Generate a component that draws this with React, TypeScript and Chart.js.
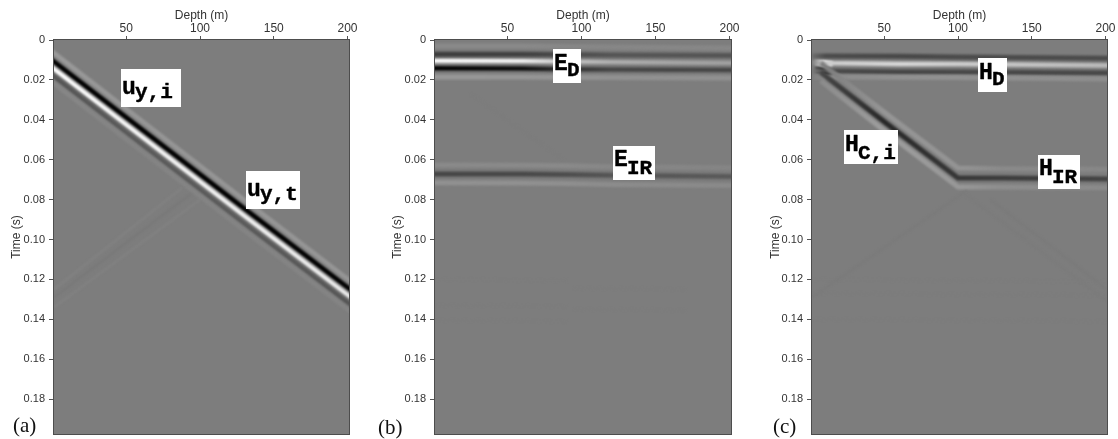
import React, { useEffect, useRef } from "react";
import { Chart, registerables } from "chart.js";

Chart.register(...registerables);

const depthTicks = [50, 100, 150, 200];
const timeTicks = [0, 0.02, 0.04, 0.06, 0.08, 0.1, 0.12, 0.14, 0.16, 0.18];
const timeLabels = ["0", "0.02", "0.04", "0.06", "0.08", "0.10", "0.12", "0.14", "0.16", "0.18"];

// Panel (a): slanted wavefront
const aDepth = [-9, 60, 130, 211];
const aLightTop = [0.0008, 0.0402, 0.0802, 0.1259];
const aBlack = [0.0051, 0.0445, 0.0845, 0.1302];
const aWhite = [0.0088, 0.0482, 0.0882, 0.1339];
const aDark = [0.0126, 0.052, 0.092, 0.1377];
const aLightLow = [0.0161, 0.0555, 0.0955, 0.1412];
const aGrayLightTop = [155, 150, 150, 150];
const aGrayBlack = [0, 0, 0, 0];
const aGrayWhite = [255, 245, 240, 235];
const aGrayDark = [85, 90, 90, 85];
const aGrayLightLow = [135, 132, 132, 132];
const aFaintDepth1 = [1, 88];
const aFaintTime1 = [0.125, 0.074];
const aFaintDepth2 = [1, 94];
const aFaintTime2 = [0.129, 0.077];
const aFaintDepth3 = [1, 100];
const aFaintTime3 = [0.134, 0.08];

// Panel (b): horizontal arrivals
const bDepth = [-5, 60, 90, 120, 205];
const bLight0 = [0.003, 0.003, 0.0032, 0.0035, 0.004];
const bDark0 = [0.0072, 0.0072, 0.0073, 0.0075, 0.0078];
const bWhite0 = [0.0104, 0.0105, 0.0108, 0.011, 0.0115];
const bBlack0 = [0.0142, 0.0143, 0.0146, 0.0148, 0.015];
const bLight1 = [0.0186, 0.0186, 0.0187, 0.0188, 0.019];
const bGrayLight0 = [138, 138, 135, 135, 135];
const bGrayDark0 = [60, 65, 75, 85, 85];
const bGrayWhite0 = [255, 240, 200, 175, 160];
const bGrayBlack0 = [0, 15, 50, 70, 70];
const bGrayLight1 = [152, 150, 148, 145, 145];
const bIrLight = [0.0627, 0.0628, 0.063, 0.0635, 0.064];
const bIrDark = [0.0672, 0.0672, 0.0674, 0.0678, 0.0684];
const bIrLow = [0.0716, 0.0717, 0.0719, 0.0724, 0.073];
const bGrayIrLight = [138, 138, 138, 135, 133];
const bGrayIrDark = [70, 72, 78, 85, 90];
const bGrayIrLow = [145, 145, 143, 140, 138];
const bFaintDepth = [25, 88];
const bFaintTime = [0.027, 0.06];
const bLowDepth1 = [1, 90];
const bLowDepth2 = [95, 170];
const bLowTime1 = [0.12, 0.1205];
const bLowTime2 = [0.133, 0.1335];
const bLowTime3 = [0.1405, 0.141];
const bLowTime4 = [0.1245, 0.125];
const bLowTime5 = [0.135, 0.1355];

// Panel (c): direct, converted and interface arrivals
const cTopDepth = [1, 10, 60, 100, 205];
const cTopDark = [0.008, 0.008, 0.0082, 0.0085, 0.0092];
const cTopWhite = [0.0112, 0.0115, 0.012, 0.012, 0.0128];
const cTopBlack = [0.0155, 0.0155, 0.016, 0.016, 0.0165];
const cTopLight = [0.0185, 0.0185, 0.0187, 0.0188, 0.0195];
const cGrayTopDark = [110, 75, 72, 75, 75];
const cGrayTopWhite = [130, 205, 215, 205, 185];
const cGrayTopBlack = [125, 75, 70, 72, 72];
const cGrayTopLight = [125, 140, 145, 145, 142];
const cKinkDepth = [7, 50, 100, 130, 205];
const cKinkLight = [0.0115, 0.0362, 0.0642, 0.0645, 0.0648];
const cKinkDark = [0.0163, 0.041, 0.0692, 0.0692, 0.0697];
const cKinkLow = [0.0205, 0.0455, 0.0737, 0.0737, 0.0741];
const cGrayKinkLight = [125, 150, 148, 138, 135];
const cGrayKinkDark = [70, 40, 55, 60, 68];
const cGrayKinkLow = [140, 158, 152, 142, 138];
const cBlobDepth = [3, 9, 15];
const cBlobWhite = [0.0112, 0.0115, 0.012];
const cBlobBlack = [0.0148, 0.0155, 0.0175];
const cGrayBlobWhite = [160, 255, 205];
const cGrayBlobBlack = [80, 0, 40];
const cFaintDepth1 = [1, 106];
const cFaintTime1 = [0.129, 0.0755];
const cFaintDepth2 = [122, 201];
const cFaintTime2 = [0.08, 0.125];
const cFaintDepth3 = [106, 201];
const cFaintTime3 = [0.078, 0.131];
const cLowDepth = [1, 201];
const cLowTime1 = [0.12, 0.121];
const cLowTime2 = [0.127, 0.128];
const cLowTime3 = [0.14, 0.141];

type Band = [number[], number[], number[], number];

const faint = (d: number[], t: number[], g: number): Band => [d, t, d.map(() => g), 2];

const panelABands: Band[] = [
  faint(aFaintDepth1, aFaintTime1, 130),
  faint(aFaintDepth2, aFaintTime2, 120),
  faint(aFaintDepth3, aFaintTime3, 130),
  [aDepth, aLightLow, aGrayLightLow, 4.5],
  [aDepth, aLightTop, aGrayLightTop, 4.5],
  [aDepth, aDark, aGrayDark, 4.5],
  [aDepth, aWhite, aGrayWhite, 4],
  [aDepth, aBlack, aGrayBlack, 4.5],
];

const panelBBands: Band[] = [
  faint(bFaintDepth, bFaintTime, 124),
  faint(bLowDepth1, bLowTime1, 124),
  faint(bLowDepth1, bLowTime2, 124),
  faint(bLowDepth1, bLowTime3, 124),
  faint(bLowDepth2, bLowTime4, 124),
  faint(bLowDepth2, bLowTime5, 124),
  [bDepth, bLight0, bGrayLight0, 5],
  [bDepth, bLight1, bGrayLight1, 5],
  [bDepth, bDark0, bGrayDark0, 5],
  [bDepth, bBlack0, bGrayBlack0, 4.5],
  [bDepth, bWhite0, bGrayWhite0, 4],
  [bDepth, bIrLight, bGrayIrLight, 5],
  [bDepth, bIrLow, bGrayIrLow, 5],
  [bDepth, bIrDark, bGrayIrDark, 5],
];

const panelCBands: Band[] = [
  faint(cFaintDepth1, cFaintTime1, 122),
  faint(cFaintDepth2, cFaintTime2, 122),
  faint(cFaintDepth3, cFaintTime3, 123),
  faint(cLowDepth, cLowTime1, 124),
  faint(cLowDepth, cLowTime2, 124),
  faint(cLowDepth, cLowTime3, 124),
  [cKinkDepth, cKinkLight, cGrayKinkLight, 5],
  [cKinkDepth, cKinkLow, cGrayKinkLow, 5],
  [cKinkDepth, cKinkDark, cGrayKinkDark, 5],
  [cTopDepth, cTopLight, cGrayTopLight, 5],
  [cTopDepth, cTopDark, cGrayTopDark, 5],
  [cTopDepth, cTopBlack, cGrayTopBlack, 5],
  [cTopDepth, cTopWhite, cGrayTopWhite, 4.5],
  [cBlobDepth, cBlobWhite, cGrayBlobWhite, 6],
  [cBlobDepth, cBlobBlack, cGrayBlobBlack, 6],
];

// Tag: main text, subscript, box left, box top, box width, box height, main baseline, subscript baseline (px within the canvas)
type Tag = [string, string, number, number, number, number, number, number];

const panels = [
  {
    left: 0,
    width: 375,
    area: [54, 349],
    titlePad: 9,
    bands: panelABands,
    letter: "(a)",
    letterPos: [13, 432],
    tags: [
      ["u", "y,i", 121, 69, 60, 38, 25, 29],
      ["u", "y,t", 246, 171, 54, 38, 25, 29],
    ] as Tag[],
  },
  {
    left: 370,
    width: 386,
    area: [435, 731],
    titlePad: 20,
    bands: panelBBands,
    letter: "(b)",
    letterPos: [378, 434],
    tags: [
      ["E", "D", 553, 49, 28, 34, 21, 27],
      ["E", "IR", 613, 146, 42, 34, 20, 28],
    ] as Tag[],
  },
  {
    left: 756,
    width: 362,
    area: [812, 1107],
    titlePad: 12,
    bands: panelCBands,
    letter: "(c)",
    letterPos: [773, 433],
    tags: [
      ["H", "D", 978, 58, 29, 34, 21, 27],
      ["H", "C,i", 844, 130, 54, 34, 21, 29],
      ["H", "IR", 1038, 155, 42, 34, 20, 28],
    ] as Tag[],
  },
];

const bandGradient = (chart: any, band: Band, fallback: string) => {
  const { ctx, scales } = chart;
  if (!scales.x || !chart.chartArea) return fallback;
  const [depth, , gray] = band;
  const x0 = scales.x.getPixelForValue(depth[0]);
  const x1 = scales.x.getPixelForValue(depth[depth.length - 1]);
  const g = ctx.createLinearGradient(x0, 0, x1, 0);
  depth.forEach((d, i) => {
    const v = gray[i];
    g.addColorStop((d - depth[0]) / (depth[depth.length - 1] - depth[0]), `rgb(${v},${v},${v})`);
  });
  return g;
};

function Panel({ panel }: { panel: (typeof panels)[number] }) {
  const ref = useRef<HTMLCanvasElement>(null);
  useEffect(() => {
    const sans = "'Liberation Sans'";
    const xFont = { family: sans, size: 12 };
    const yFont = { family: sans, size: 11 };
    const ink = "#333333";
    const chart = new Chart(ref.current!, {
      type: "line",
      data: {
        datasets: panel.bands.map((band) => ({
          data: band[0].map((x, i) => ({ x, y: band[1][i] })),
          borderColor: (c: any) => bandGradient(c.chart, band, "#808080"),
          borderWidth: band[3],
          pointRadius: 0,
          tension: 0,
          fill: false,
          borderCapStyle: "butt",
          borderJoinStyle: "round",
        })),
      } as any,
      options: {
        responsive: false,
        animation: false,
        events: [],
        parsing: false,
        normalized: false,
        layout: {
          padding: { left: 0, top: 0, right: panel.width - (panel.area[1] - panel.left), bottom: 5 },
        },
        plugins: { legend: { display: false }, tooltip: { enabled: false }, title: { display: false } },
        scales: {
          x: {
            type: "linear",
            position: "top",
            min: 1,
            max: 201,
            afterBuildTicks: (s: any) => {
              s.ticks = depthTicks.map((value) => ({ value }));
            },
            afterFit: (s: any) => {
              s.height = 40;
              s.paddingLeft = 0;
              s.paddingRight = 0;
            },
            ticks: { font: xFont, color: ink, padding: 0, maxRotation: 0, autoSkip: false },
            grid: { drawOnChartArea: false, drawTicks: true, tickLength: 4, color: "#555555" },
            border: { display: false },
            title: { display: true, text: "Depth (m)", font: xFont, color: ink, padding: { top: 8, bottom: 0 } },
          },
          y: {
            type: "linear",
            reverse: true,
            min: 0,
            max: 0.1975,
            afterBuildTicks: (s: any) => {
              s.ticks = timeTicks.map((value) => ({ value }));
            },
            afterFit: (s: any) => {
              s.width = panel.area[0] - panel.left;
              s.paddingTop = 0;
              s.paddingBottom = 0;
            },
            ticks: {
              font: yFont,
              color: ink,
              padding: 4,
              autoSkip: false,
              callback: (_v: any, i: number) => timeLabels[i],
            },
            grid: { drawOnChartArea: false, drawTicks: true, tickLength: 5, color: "#555555" },
            border: { display: false },
            title: {
              display: true,
              text: "Time (s)",
              font: xFont,
              color: ink,
              padding: { top: panel.titlePad, bottom: 0 },
            },
          },
        },
      } as any,
      plugins: [
        {
          id: "seismicFrame",
          beforeDatasetsDraw(c: any) {
            const { ctx, chartArea: a } = c;
            ctx.save();
            ctx.fillStyle = "#7d7d7d";
            ctx.fillRect(a.left, a.top, a.right - a.left, a.bottom - a.top);
            ctx.restore();
            ctx.save();
            ctx.filter = "blur(1.3px)";
          },
          afterDatasetsDraw(c: any) {
            c.ctx.restore();
          },
          afterDraw(c: any) {
            const { ctx, chartArea: a } = c;
            ctx.save();
            ctx.strokeStyle = "#4d4d4d";
            ctx.lineWidth = 1;
            ctx.strokeRect(a.left - 0.5, a.top - 0.5, a.right - a.left + 1, a.bottom - a.top + 1);
            ctx.textBaseline = "alphabetic";
            ctx.textAlign = "left";
            ctx.lineJoin = "round";
            for (const [main, sub, bx, by, bw, bh, mb, sb] of panel.tags) {
              const x = bx - panel.left;
              ctx.fillStyle = "#ffffff";
              ctx.fillRect(x, by, bw, bh);
              ctx.fillStyle = "#000000";
              ctx.strokeStyle = "#000000";
              ctx.lineWidth = 0.4;
              ctx.font = "bold 23px 'Liberation Mono'";
              ctx.fillText(main, x + 1, by + mb);
              ctx.strokeText(main, x + 1, by + mb);
              ctx.font = "bold 21px 'Liberation Mono'";
              ctx.fillText(sub, x + 14, by + sb);
              ctx.strokeText(sub, x + 14, by + sb);
            }
            ctx.fillStyle = "#111111";
            ctx.font = "21px 'Liberation Serif'";
            ctx.fillText(panel.letter, panel.letterPos[0] - panel.left, panel.letterPos[1]);
            ctx.restore();
          },
        },
      ],
    });
    return () => chart.destroy();
  }, [panel]);
  return (
    <canvas
      ref={ref}
      width={panel.width}
      height={439}
      style={{
        position: "absolute",
        left: panel.left,
        top: 0,
        width: panel.width,
        height: 439,
        filter: "blur(0.35px)",
      }}
    />
  );
}

export default function App() {
  return (
    <div style={{ position: "absolute", left: 0, top: 0, width: 1118, height: 439, overflow: "hidden", background: "#ffffff" }}>
      {panels.map((p) => (
        <Panel key={p.letter} panel={p} />
      ))}
    </div>
  );
}
